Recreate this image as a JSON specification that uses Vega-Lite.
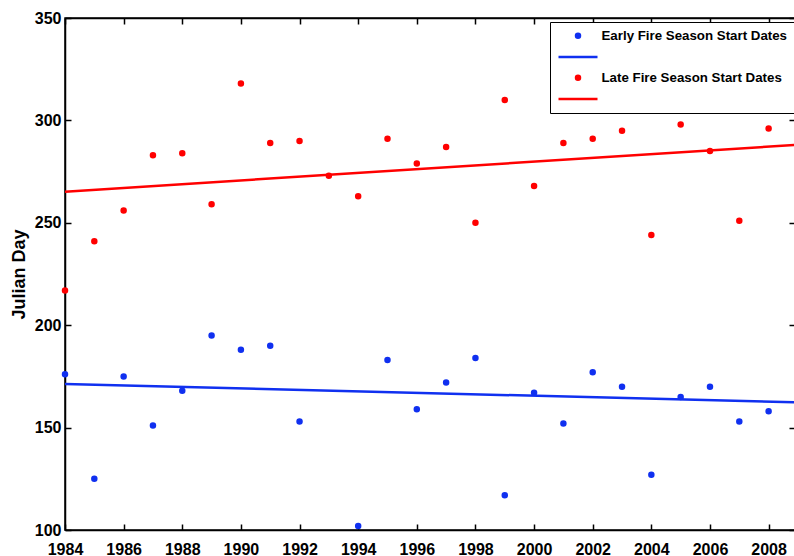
{
  "$schema": "https://vega.github.io/schema/vega-lite/v6.json",
  "width": 730,
  "height": 512,
  "autosize": {"type": "none"},
  "padding": {"left": 65, "top": 18, "right": 0, "bottom": 26},
  "background": "white",
  "config": {
    "font": "Liberation Sans",
    "view": {"stroke": "black", "strokeWidth": 1.5},
    "axis": {
      "grid": false,
      "domainColor": "black",
      "domainWidth": 1.5,
      "tickColor": "black",
      "tickWidth": 1.5,
      "tickSize": -6,
      "labelFlush": false,
      "labelOverlap": false,
      "labelFont": "Liberation Sans",
      "labelFontSize": 16,
      "labelFontWeight": "bold",
      "labelColor": "black",
      "titleFont": "Liberation Sans",
      "titleColor": "black"
    },
    "legend": {
      "title": null,
      "orient": "none",
      "legendX": 485,
      "legendY": 4,
      "padding": 7,
      "rowPadding": 6,
      "labelOffset": 15.5,
      "symbolOffset": 13,
      "labelFont": "Liberation Sans",
      "labelFontSize": 13.3,
      "labelFontWeight": "bold",
      "labelColor": "black",
      "labelLimit": 400,
      "strokeColor": "black",
      "fillColor": "white",
      "symbolOpacity": 1,
      "symbolStrokeWidth": 2.5
    }
  },
  "datasets": {
    "points": [
      {"series": "Early Fire Season Start Dates", "year": 1984, "day": 176},
      {"series": "Early Fire Season Start Dates", "year": 1985, "day": 125},
      {"series": "Early Fire Season Start Dates", "year": 1986, "day": 175},
      {"series": "Early Fire Season Start Dates", "year": 1987, "day": 151},
      {"series": "Early Fire Season Start Dates", "year": 1988, "day": 168},
      {"series": "Early Fire Season Start Dates", "year": 1989, "day": 195},
      {"series": "Early Fire Season Start Dates", "year": 1990, "day": 188},
      {"series": "Early Fire Season Start Dates", "year": 1991, "day": 190},
      {"series": "Early Fire Season Start Dates", "year": 1992, "day": 153},
      {"series": "Early Fire Season Start Dates", "year": 1994, "day": 102},
      {"series": "Early Fire Season Start Dates", "year": 1995, "day": 183},
      {"series": "Early Fire Season Start Dates", "year": 1996, "day": 159},
      {"series": "Early Fire Season Start Dates", "year": 1997, "day": 172},
      {"series": "Early Fire Season Start Dates", "year": 1998, "day": 184},
      {"series": "Early Fire Season Start Dates", "year": 1999, "day": 117},
      {"series": "Early Fire Season Start Dates", "year": 2000, "day": 167},
      {"series": "Early Fire Season Start Dates", "year": 2001, "day": 152},
      {"series": "Early Fire Season Start Dates", "year": 2002, "day": 177},
      {"series": "Early Fire Season Start Dates", "year": 2003, "day": 170},
      {"series": "Early Fire Season Start Dates", "year": 2004, "day": 127},
      {"series": "Early Fire Season Start Dates", "year": 2005, "day": 165},
      {"series": "Early Fire Season Start Dates", "year": 2006, "day": 170},
      {"series": "Early Fire Season Start Dates", "year": 2007, "day": 153},
      {"series": "Early Fire Season Start Dates", "year": 2008, "day": 158},
      {"series": "Late Fire Season Start Dates", "year": 1984, "day": 217},
      {"series": "Late Fire Season Start Dates", "year": 1985, "day": 241},
      {"series": "Late Fire Season Start Dates", "year": 1986, "day": 256},
      {"series": "Late Fire Season Start Dates", "year": 1987, "day": 283},
      {"series": "Late Fire Season Start Dates", "year": 1988, "day": 284},
      {"series": "Late Fire Season Start Dates", "year": 1989, "day": 259},
      {"series": "Late Fire Season Start Dates", "year": 1990, "day": 318},
      {"series": "Late Fire Season Start Dates", "year": 1991, "day": 289},
      {"series": "Late Fire Season Start Dates", "year": 1992, "day": 290},
      {"series": "Late Fire Season Start Dates", "year": 1993, "day": 273},
      {"series": "Late Fire Season Start Dates", "year": 1994, "day": 263},
      {"series": "Late Fire Season Start Dates", "year": 1995, "day": 291},
      {"series": "Late Fire Season Start Dates", "year": 1996, "day": 279},
      {"series": "Late Fire Season Start Dates", "year": 1997, "day": 287},
      {"series": "Late Fire Season Start Dates", "year": 1998, "day": 250},
      {"series": "Late Fire Season Start Dates", "year": 1999, "day": 310},
      {"series": "Late Fire Season Start Dates", "year": 2000, "day": 268},
      {"series": "Late Fire Season Start Dates", "year": 2001, "day": 289},
      {"series": "Late Fire Season Start Dates", "year": 2002, "day": 291},
      {"series": "Late Fire Season Start Dates", "year": 2003, "day": 295},
      {"series": "Late Fire Season Start Dates", "year": 2004, "day": 244},
      {"series": "Late Fire Season Start Dates", "year": 2005, "day": 298},
      {"series": "Late Fire Season Start Dates", "year": 2006, "day": 285},
      {"series": "Late Fire Season Start Dates", "year": 2007, "day": 251},
      {"series": "Late Fire Season Start Dates", "year": 2008, "day": 296}
    ],
    "earlyFit": [
      {"series": "Early fit", "year": 1984, "day": 171.3},
      {"series": "Early fit", "year": 2009, "day": 162.3}
    ],
    "lateFit": [
      {"series": "Late fit", "year": 1984, "day": 265.2},
      {"series": "Late fit", "year": 2009, "day": 288.1}
    ]
  },
  "layer": [
    {
      "data": {"name": "earlyFit"},
      "mark": {"type": "line", "strokeWidth": 2.5, "clip": true, "color": "#1030f0"},
      "encoding": {
        "x": {
          "field": "year", "type": "quantitative",
          "scale": {"domain": [1984, 2008.9], "nice": false, "zero": false},
          "axis": {"orient": "top", "labels": false, "title": null, "values": [1984, 1986, 1988, 1990, 1992, 1994, 1996, 1998, 2000, 2002, 2004, 2006, 2008]}
        },
        "y": {
          "field": "day", "type": "quantitative",
          "scale": {"domain": [100, 350], "nice": false, "zero": false},
          "axis": {"orient": "right", "labels": false, "title": null, "values": [100, 150, 200, 250, 300, 350]}
        }
      }
    },
    {
      "data": {"name": "lateFit"},
      "mark": {"type": "line", "strokeWidth": 2.5, "clip": true, "color": "#ff0000"},
      "encoding": {
        "x": {"field": "year", "type": "quantitative", "axis": null},
        "y": {"field": "day", "type": "quantitative", "axis": null}
      }
    },
    {
      "data": {"name": "points"},
      "mark": {"type": "point", "filled": true, "strokeWidth": 2.5, "opacity": 1},
      "encoding": {
        "x": {
          "field": "year", "type": "quantitative",
          "scale": {"domain": [1984, 2008.9], "nice": false, "zero": false},
          "axis": {"orient": "bottom", "title": null, "format": "d", "labelPadding": 17, "values": [1984, 1986, 1988, 1990, 1992, 1994, 1996, 1998, 2000, 2002, 2004, 2006, 2008]}
        },
        "y": {
          "field": "day", "type": "quantitative",
          "scale": {"domain": [100, 350], "nice": false, "zero": false},
          "axis": {"orient": "left", "title": "Julian Day", "titleFontSize": 18, "titleFontWeight": "bold", "titlePadding": 6, "labelPadding": 10, "values": [100, 150, 200, 250, 300, 350]}
        },
        "color": {
          "field": "series", "type": "nominal",
          "scale": {
            "domain": ["Early Fire Season Start Dates", " ", "Late Fire Season Start Dates", "  "],
            "range": ["#1030f0", "#1030f0", "#ff0000", "#ff0000"]
          }
        },
        "stroke": {
          "field": "series", "type": "nominal",
          "scale": {
            "domain": ["Early Fire Season Start Dates", " ", "Late Fire Season Start Dates", "  "],
            "range": ["#1030f0", "#1030f0", "#ff0000", "#ff0000"]
          }
        },
        "shape": {
          "field": "series", "type": "nominal",
          "scale": {
            "domain": ["Early Fire Season Start Dates", " ", "Late Fire Season Start Dates", "  "],
            "range": ["circle", "M-3,0L3,0", "circle", "M-3,0L3,0"]
          }
        },
        "size": {
          "field": "series", "type": "nominal",
          "scale": {
            "type": "ordinal",
            "domain": ["Early Fire Season Start Dates", " ", "Late Fire Season Start Dates", "  "],
            "range": [16, 169, 16, 169]
          }
        }
      }
    }
  ],
  "resolve": {"axis": {"x": "independent", "y": "independent"}}
}
